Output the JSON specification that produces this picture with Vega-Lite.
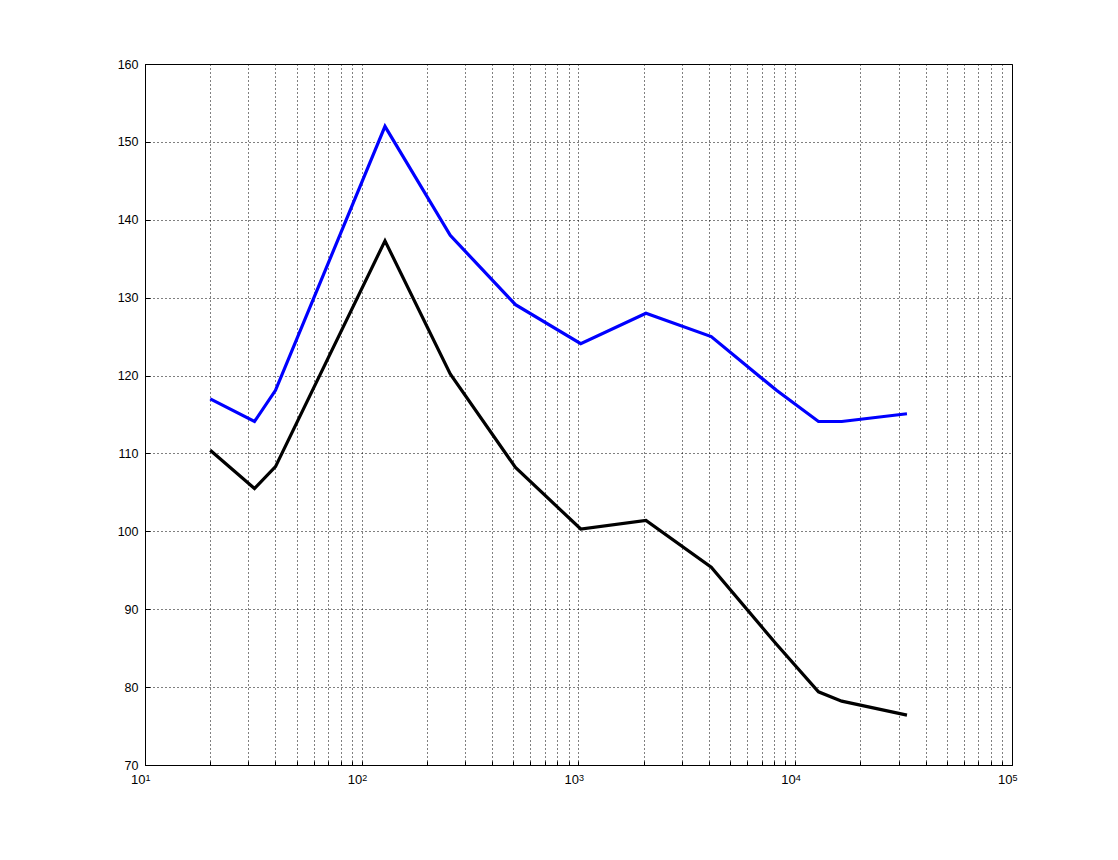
{
  "$schema": "https://vega.github.io/schema/vega-lite/v6.json",
  "autosize": "none",
  "padding": {"left": 145, "top": 64, "right": 106, "bottom": 95},
  "width": 867,
  "height": 701,
  "background": "white",
  "config": {
    "view": {"stroke": "black", "strokeWidth": 1},
    "axis": {
      "domainColor": "black",
      "domainWidth": 1,
      "gridColor": "black",
      "gridDash": [1, 3],
      "gridWidth": 1,
      "gridOpacity": 1,
      "tickColor": "black",
      "labelColor": "black",
      "labelFont": "Liberation Sans",
      "labelFontSize": 12,
      "title": null
    }
  },
  "data": {
    "values": [
      {"f": 20, "v": 117.0, "s": "upper"},
      {"f": 32, "v": 114.1, "s": "upper"},
      {"f": 40, "v": 118.1, "s": "upper"},
      {"f": 128, "v": 152.0, "s": "upper"},
      {"f": 256, "v": 138.0, "s": "upper"},
      {"f": 512, "v": 129.1, "s": "upper"},
      {"f": 1024, "v": 124.1, "s": "upper"},
      {"f": 2048, "v": 128.0, "s": "upper"},
      {"f": 4096, "v": 125.0, "s": "upper"},
      {"f": 8192, "v": 118.1, "s": "upper"},
      {"f": 12800, "v": 114.1, "s": "upper"},
      {"f": 16384, "v": 114.1, "s": "upper"},
      {"f": 32768, "v": 115.1, "s": "upper"},
      {"f": 20, "v": 110.4, "s": "lower"},
      {"f": 32, "v": 105.5, "s": "lower"},
      {"f": 40, "v": 108.3, "s": "lower"},
      {"f": 128, "v": 137.3, "s": "lower"},
      {"f": 256, "v": 120.2, "s": "lower"},
      {"f": 512, "v": 108.2, "s": "lower"},
      {"f": 1024, "v": 100.3, "s": "lower"},
      {"f": 2048, "v": 101.4, "s": "lower"},
      {"f": 4096, "v": 95.4, "s": "lower"},
      {"f": 8192, "v": 85.5, "s": "lower"},
      {"f": 12800, "v": 79.4, "s": "lower"},
      {"f": 16384, "v": 78.2, "s": "lower"},
      {"f": 32768, "v": 76.4, "s": "lower"}
    ]
  },
  "layer": [
    {
      "mark": {"type": "line", "strokeWidth": 3.2},
      "encoding": {
        "x": {
          "field": "f",
          "type": "quantitative",
          "scale": {"type": "log", "domain": [10, 100000], "nice": false},
          "axis": {
            "orient": "bottom",
            "values": [10, 20, 30, 40, 50, 60, 70, 80, 90, 100, 200, 300, 400, 500, 600, 700, 800, 900, 1000, 2000, 3000, 4000, 5000, 6000, 7000, 8000, 9000, 10000, 20000, 30000, 40000, 50000, 60000, 70000, 80000, 90000, 100000],
            "labelExpr": "datum.value == 10 || datum.value == 100 || datum.value == 1000 || datum.value == 10000 || datum.value == 100000 ? '10' : ''",
            "grid": true,
            "ticks": true,
            "tickSize": -4,
            "labelFontSize": 13,
            "labelAlign": "right",
            "labelBaseline": "top",
            "labelDx": -1,
            "labelPadding": 12,
            "labelFlush": false,
            "labelOverlap": false
          }
        },
        "y": {
          "field": "v",
          "type": "quantitative",
          "scale": {"domain": [70, 160], "nice": false, "zero": false},
          "axis": {
            "values": [70, 80, 90, 100, 110, 120, 130, 140, 150, 160],
            "grid": true,
            "ticks": true,
            "tickSize": -5,
            "labelFontSize": 12.5,
            "labelPadding": 12
          }
        },
        "color": {
          "field": "s",
          "type": "nominal",
          "scale": {"domain": ["upper", "lower"], "range": ["#0000ff", "#000000"]},
          "legend": null
        }
      }
    },
    {
      "mark": {"type": "line", "strokeWidth": 3.2, "opacity": 0},
      "encoding": {
        "x": {
          "field": "f",
          "type": "quantitative",
          "scale": {"type": "log", "domain": [10, 100000], "nice": false},
          "axis": {
            "orient": "bottom",
            "values": [10, 100, 1000, 10000, 100000],
            "labelExpr": "datum.value == 10 ? '1' : datum.value == 100 ? '2' : datum.value == 1000 ? '3' : datum.value == 10000 ? '4' : '5'",
            "grid": false,
            "ticks": false,
            "domain": false,
            "labelFontSize": 9,
            "labelAlign": "left",
            "labelBaseline": "top",
            "labelDx": 0,
            "labelPadding": 8,
            "labelFlush": false,
            "labelOverlap": false
          }
        },
        "y": {
          "field": "v",
          "type": "quantitative",
          "scale": {"domain": [70, 160], "nice": false, "zero": false}
        },
        "detail": {"field": "s", "type": "nominal"}
      }
    }
  ],
  "resolve": {"axis": {"x": "independent"}}
}
